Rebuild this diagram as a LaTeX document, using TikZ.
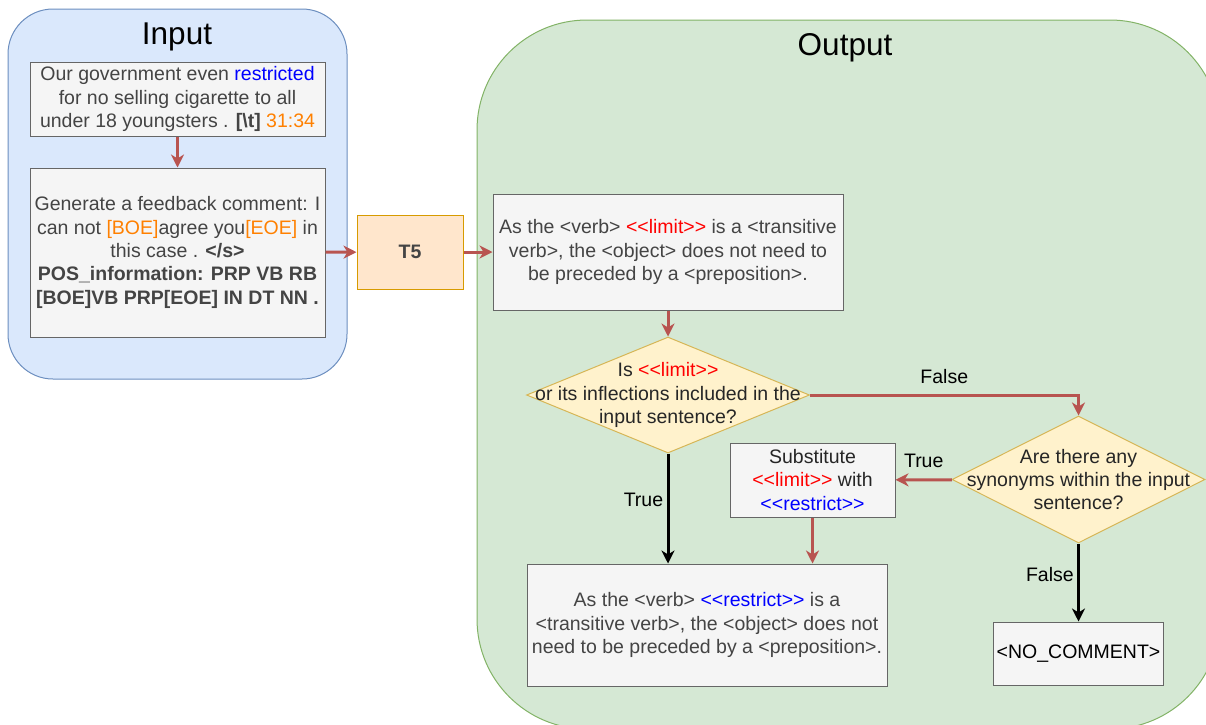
\documentclass[tikz,border=0pt]{standalone}
\usepackage{fontspec}
\setmainfont{Liberation Sans}
\usetikzlibrary{shapes.geometric,arrows.meta}

\definecolor{inblue}{HTML}{DAE8FC}
\definecolor{inblueline}{HTML}{6C8EBF}
\definecolor{outgreen}{HTML}{D5E8D4}
\definecolor{outgreenline}{HTML}{82B366}
\definecolor{boxfill}{HTML}{F5F5F5}
\definecolor{boxline}{HTML}{666666}
\definecolor{boxtext}{HTML}{444444}
\definecolor{tfill}{HTML}{FFE6CC}
\definecolor{tline}{HTML}{D79B00}
\definecolor{qfill}{HTML}{FFF2CC}
\definecolor{qline}{HTML}{D6B656}
\definecolor{arrowred}{HTML}{B85450}
\definecolor{tagorange}{HTML}{FF8000}

\newcommand{\dang}[1]{<\kern0pt<#1>\kern0pt>}
\newcommand{\redw}[1]{\textcolor{red}{\dang{#1}}}
\newcommand{\bluew}[1]{\textcolor{blue}{\dang{#1}}}
\newcommand{\tagw}[1]{\textcolor{tagorange}{#1}}

\tikzset{
  redarrow/.style={draw=arrowred, line width=3pt, -{Stealth[length=13pt,width=13pt,inset=4pt]}},
  blackarrow/.style={draw=black, line width=3pt, -{Stealth[length=13pt,width=13pt,inset=4pt]}}
}

\begin{document}
\begin{tikzpicture}[x=1pt,y=-1pt,font=\fontsize{19.5}{23.4}\selectfont]

  \useasboundingbox (0,0) rectangle (1206,724);
  \clip (0,0) rectangle (1206,724);

  % containers
  \draw[fill=inblue, draw=inblueline, line width=1pt, rounded corners=45pt] (8,9) rectangle (347,379);
  \draw[fill=outgreen, draw=outgreenline, line width=1pt, rounded corners=110pt] (477,20) rectangle (1220,729);
  \node (intitle) at (177,37) {\fontsize{31.5}{36}\selectfont Input};
  \node (outtitle) at (845,48) {\fontsize{31.5}{36}\selectfont Output};

  \begin{scope}[every node/.style={rectangle,draw=boxline,fill=boxfill,text=boxtext,align=center,line width=1pt,inner sep=3pt}]
    \node[minimum width=295pt, minimum height=74pt] (s1) at (177.5,99)
      {Our government even \textcolor{blue}{restricted}\\
       for no selling cigarette to all\\
       under 18 youngsters . \textbf{[\textbackslash t]} \tagw{31:34}};
    \node[minimum width=295pt, minimum height=169pt] (s2) at (177.5,252.5)
      {Generate a feedback comment: I\\
       can not \tagw{[BOE]}agree you\tagw{[EOE]} in\\
       this case . \textbf{</s>}\\
       \textbf{POS\_information: PRP VB RB}\\
       \textbf{[BOE]VB PRP[EOE] IN DT NN .}};
    \node[minimum width=350pt, minimum height=116pt] (c1) at (668,252)
      {As the <verb> \redw{limit} is a <transitive\\
       verb>, the <object> does not need to\\
       be preceded by a <preposition>.};
    \node[minimum width=165pt, minimum height=74pt, text=black!85] (sub) at (812.5,480)
      {Substitute\\ \redw{limit} with\\ \bluew{restrict}};
    \node[minimum width=360pt, minimum height=122pt] (c2) at (707,625)
      {As the <verb> \bluew{restrict} is a\\
       <transitive verb>, the <object> does not\\
       need to be preceded by a <preposition>.};
    \node[minimum width=165pt, minimum height=63pt, text=black] (nc) at (1078.5,653.5)
      {<NO\_COMMENT>};
    \node[minimum width=106pt, minimum height=74pt, fill=tfill, draw=tline, text=boxtext] (t5) at (410,252)
      {\textbf{T5}};
  \end{scope}

  \begin{scope}[every node/.style={diamond,draw=qline,fill=qfill,line width=1pt,inner sep=0pt}]
    \node[minimum width=283pt, minimum height=116pt,
      label={[align=center,text=black!85]center:Is \redw{limit}\\ or its inflections included in the\\ input sentence?}] (q1) at (668,395) {};
    \node[minimum width=253pt, minimum height=127pt,
      label={[align=center,text=black!85]center:Are there any\\ synonyms within the input\\ sentence?}] (q2) at (1078.5,479.5) {};
  \end{scope}

  \begin{scope}[every edge/.style={redarrow}]
    \path (s1) edge (s2);
    \path (s2) edge (t5);
    \path (t5) edge (c1);
    \path (c1) edge (q1);
    \path (q2) edge node[above=7pt] {True} (sub);
    \path (sub) edge (sub |- c2.north);
  \end{scope}
  \draw[redarrow] (q1.east) -| node[pos=0.25, above=6pt] {False} (q2.north);

  \begin{scope}[every edge/.style={blackarrow}]
    \path (q1) edge node[left, pos=0.42] {True} (q1 |- c2.north);
    \path (q2) edge node[left, pos=0.4] {False} (nc);
  \end{scope}

\end{tikzpicture}
\end{document}
